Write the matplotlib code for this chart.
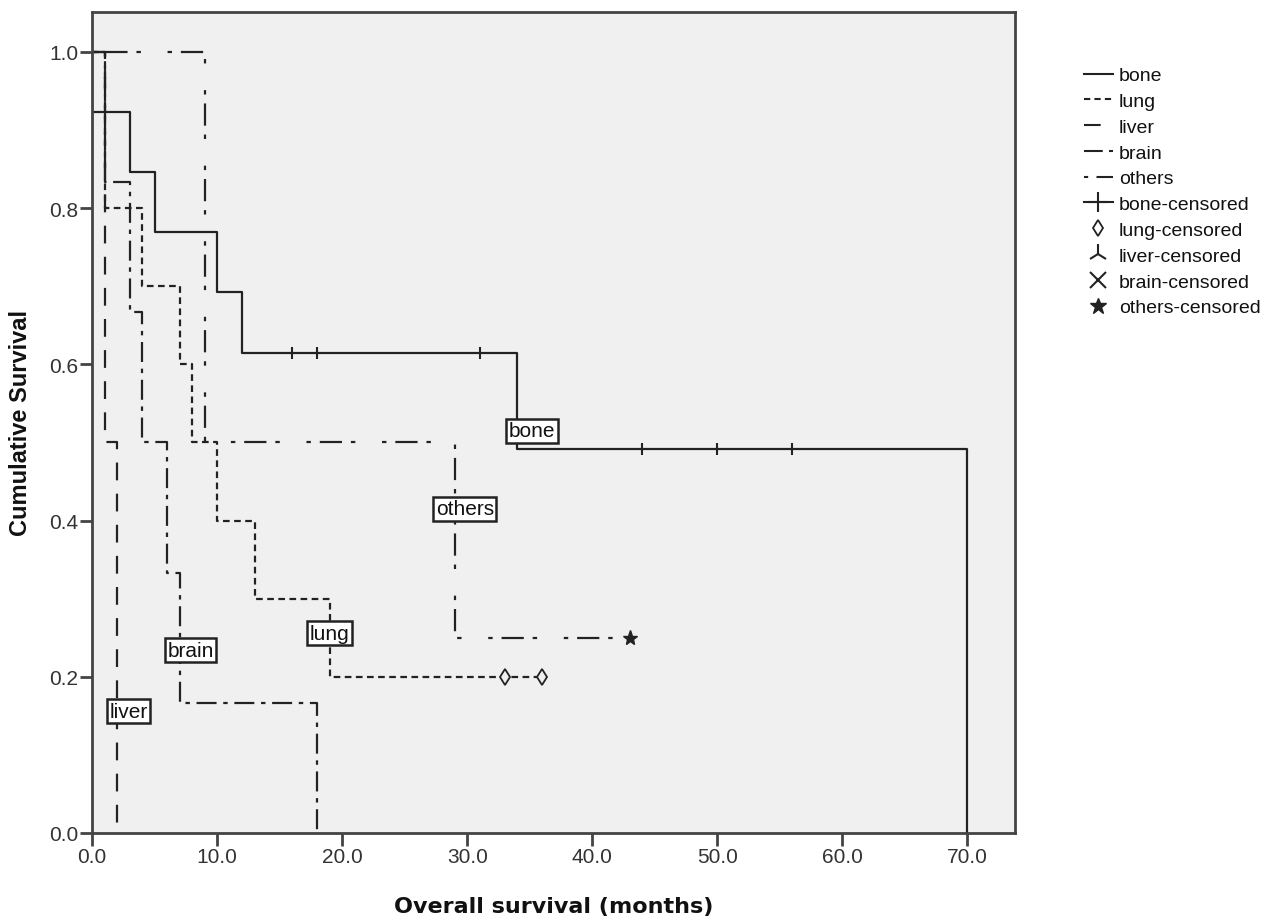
import matplotlib
matplotlib.use("Agg")
import matplotlib.pyplot as plt
from matplotlib.lines import Line2D

# ---- data ----
groups = ["bone", "lung", "liver", "brain", "others"]

bone_t = [0, 0, 3, 5, 10, 12, 34, 70]
bone_s = [1.0, 0.923, 0.846, 0.769, 0.692, 0.615, 0.492, 0.0]
bone_cens_t = [16, 18, 31, 44, 50, 56]
bone_cens_s = [0.615, 0.615, 0.615, 0.492, 0.492, 0.492]

lung_t = [0, 1, 4, 7, 8, 10, 13, 19, 36]
lung_s = [1.0, 0.8, 0.7, 0.6, 0.5, 0.4, 0.3, 0.2, 0.2]
lung_cens_t = [33, 36]
lung_cens_s = [0.2, 0.2]

liver_t = [0, 1, 2]
liver_s = [1.0, 0.5, 0.0]

brain_t = [0, 1, 3, 4, 6, 7, 18]
brain_s = [1.0, 0.833, 0.667, 0.5, 0.333, 0.167, 0.0]

others_t = [0, 9, 29, 43]
others_s = [1.0, 0.5, 0.25, 0.25]
others_cens_t = [43]
others_cens_s = [0.25]

label_pos_x = [35.2, 19.0, 2.9, 7.9, 29.8]
label_pos_y = [0.515, 0.256, 0.156, 0.234, 0.415]

xticks = [0, 10, 20, 30, 40, 50, 60, 70]
yticks = [0.0, 0.2, 0.4, 0.6, 0.8, 1.0]

# ---- styles ----
col = "#222222"
styles = {
    "bone": "-",
    "lung": (0, (3, 2)),
    "liver": (0, (8, 6)),
    "brain": (0, (9, 3, 2, 3)),
    "others": (0, (2, 4, 10, 4, 2, 12)),
}

fig = plt.figure(figsize=(12.85, 9.2), dpi=100)
ax = fig.add_axes([92/1285, 1 - 834/920, (1015-92)/1285, (834-13)/920])
ax.set_facecolor("#F0F0F0")

data = {
    "bone": (bone_t, bone_s),
    "lung": (lung_t, lung_s),
    "liver": (liver_t, liver_s),
    "brain": (brain_t, brain_s),
    "others": (others_t, others_s),
}
for g in groups:
    t, s = data[g]
    ax.step(t, s, where="post", color=col, lw=1.6, linestyle=styles[g])

ax.plot(bone_cens_t, bone_cens_s, linestyle="none", marker="|", ms=9, mew=1.5, color=col)
ax.plot(lung_cens_t, lung_cens_s, linestyle="none", marker="d", ms=8, mew=1.3,
        mfc="#F0F0F0", color=col)
ax.plot(others_cens_t, others_cens_s, linestyle="none", marker="*", ms=11, color=col)

for g, x, y in zip(groups, label_pos_x, label_pos_y):
    ax.text(x, y, g, ha="center", va="center", fontsize=15, family="Liberation Sans",
            color="#111111",
            bbox=dict(boxstyle="square,pad=0.12", fc="white", ec="#222222", lw=1.8))

ax.set_xlim(0, 73.8)
ax.set_ylim(0, 1.051)
ax.set_xticks(xticks)
ax.set_xticklabels([f"{v:.1f}" for v in xticks])
ax.set_yticks(yticks)
ax.set_yticklabels([f"{v:.1f}" for v in yticks])
ax.tick_params(direction="out", length=9, width=2, color="#444444",
               labelsize=15, labelcolor="#333333", pad=1)
for lab in ax.get_xticklabels() + ax.get_yticklabels():
    lab.set_family("Liberation Sans")
for sp in ax.spines.values():
    sp.set_linewidth(2)
    sp.set_color("#444444")

ax.set_xlabel("Overall survival (months)", fontsize=16, fontweight="bold",
              family="DejaVu Sans", labelpad=22, color="#111111")
ax.set_ylabel("Cumulative Survival", fontsize=17, fontweight="bold",
              family="Liberation Sans", labelpad=12, color="#111111")

handles = [Line2D([], [], color=col, lw=1.5, linestyle=styles[g]) for g in groups]
handles += [
    Line2D([], [], color=col, lw=1.5, marker="+", ms=14, mew=1.5, linestyle="-"),
    Line2D([], [], color=col, linestyle="none", marker="d", ms=8, mfc="white", mew=1.3),
    Line2D([], [], color=col, linestyle="none", marker="2", ms=14, mew=1.5),
    Line2D([], [], color=col, linestyle="none", marker="x", ms=11, mew=1.5),
    Line2D([], [], color=col, linestyle="none", marker="*", ms=12),
]
labels = groups + [g + "-censored" for g in groups]
leg = fig.legend(handles, labels, loc="upper left",
                 bbox_to_anchor=(1076/1285, 1 - 60/920), frameon=False,
                 prop={"family": "Liberation Sans", "size": 14},
                 handlelength=1.5, handletextpad=0.3, labelspacing=0.42,
                 borderaxespad=0)
for t in leg.get_texts():
    t.set_color("#111111")

fig.savefig("out.png", dpi=100)
